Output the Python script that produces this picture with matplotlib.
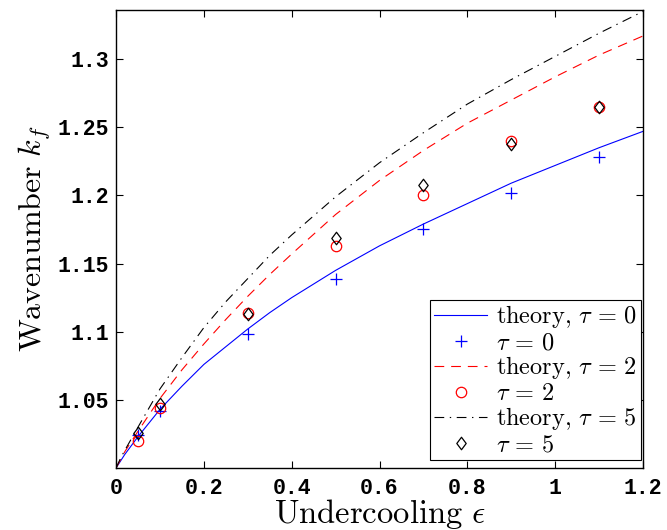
import numpy as np
import matplotlib
matplotlib.use("Agg")
import matplotlib.pyplot as plt
from matplotlib.path import Path

plt.rcParams["mathtext.fontset"] = "cm"
plt.rcParams["lines.scale_dashes"] = False

# simulation points
eps = [0.05, 0.1, 0.3, 0.5, 0.7, 0.9, 1.1]
k_tau0 = [1.024, 1.042, 1.098, 1.139, 1.175, 1.202, 1.228]
k_tau2 = [1.020, 1.044, 1.114, 1.163, 1.200, 1.240, 1.265]
k_tau5 = [1.026, 1.047, 1.113, 1.169, 1.208, 1.238, 1.265]

# theory curves
eps_th = [0, 0.01, 0.02, 0.05, 0.1, 0.15, 0.2, 0.25, 0.3, 0.35, 0.4, 0.5, 0.6, 0.7, 0.8, 0.9, 1.0, 1.1, 1.2]
th_tau0 = [1.0, 1.005, 1.010, 1.023, 1.043, 1.060, 1.076, 1.089, 1.102, 1.114, 1.125, 1.145, 1.163, 1.179, 1.194, 1.209, 1.222, 1.235, 1.247]
th_tau2 = [1.0, 1.006, 1.012, 1.027, 1.051, 1.072, 1.091, 1.109, 1.126, 1.142, 1.157, 1.186, 1.211, 1.233, 1.253, 1.270, 1.287, 1.303, 1.317]
th_tau5 = [1.0, 1.007, 1.013, 1.030, 1.058, 1.081, 1.103, 1.122, 1.139, 1.156, 1.171, 1.199, 1.224, 1.246, 1.267, 1.285, 1.302, 1.319, 1.335]

xticks = [0, 0.2, 0.4, 0.6, 0.8, 1, 1.2]
xticklabels = ["0", "0.2", "0.4", "0.6", "0.8", "1", "1.2"]
yticks = [1.05, 1.1, 1.15, 1.2, 1.25, 1.3]
yticklabels = ["1.05", "1.1", "1.15", "1.2", "1.25", "1.3"]

# matlab-style diamond (a bit taller than wide)
diamond = Path([(-0.75, 0), (0, 1), (0.75, 0), (0, -1), (-0.75, 0)],
               [Path.MOVETO, Path.LINETO, Path.LINETO, Path.LINETO, Path.CLOSEPOLY])

fig = plt.figure(figsize=(6.67, 5.30), dpi=100)
ax = fig.add_axes([0.174, 0.117, 0.79, 0.864])

ax.plot(eps_th, th_tau0, color="blue", lw=0.8, label=r"$\mathrm{theory,}\,\tau \,=\, 0$")
ax.plot(eps, k_tau0, "+", color="blue", ms=8, mew=0.9, label=r"$\tau \,=\, 0$")
ax.plot(eps_th, th_tau2, color="red", lw=0.8, dashes=(7, 5), label=r"$\mathrm{theory,}\,\tau \,=\, 2$")
ax.plot(eps, k_tau2, "o", color="red", mfc="none", ms=7.5, mew=0.9, label=r"$\tau \,=\, 2$")
ax.plot(eps_th, th_tau5, color="black", lw=0.8, dashes=(7, 4, 1, 4), label=r"$\mathrm{theory,}\,\tau \,=\, 5$")
ax.plot(eps, k_tau5, marker=diamond, ls="none", color="black", mfc="none", ms=9, mew=0.9, label=r"$\tau \,=\, 5$")

ax.set_xlim(0, 1.2)
ax.set_ylim(1.0, 1.336)
ax.set_xticks(xticks)
ax.set_xticklabels(xticklabels)
ax.set_yticks(yticks)
ax.set_yticklabels(yticklabels)
ax.tick_params(direction="in", top=True, right=True, length=5, width=0.8)
ax.tick_params(axis="x", pad=7)
ax.tick_params(axis="y", pad=5)
for lab in ax.get_xticklabels() + ax.get_yticklabels():
    lab.set_family("Liberation Mono")
    lab.set_weight("bold")
    lab.set_size(15.5)
for s in ax.spines.values():
    s.set_linewidth(1.0)

ax.set_xlabel(r"$\mathrm{Undercooling}\ \epsilon$", fontsize=23.5, labelpad=-1)
ax.set_ylabel(r"$\mathrm{Wavenumber}\ k_f$", fontsize=23, labelpad=3)

leg = ax.legend(loc="lower right", bbox_to_anchor=(1.0, 0.012), fontsize=17.5,
                labelspacing=0.0, handlelength=2.2, handletextpad=0.35,
                borderpad=0.15, borderaxespad=0.1,
                fancybox=False, framealpha=1, edgecolor="black")
leg.get_frame().set_linewidth(0.8)

fig.savefig("out.png", dpi=100)
